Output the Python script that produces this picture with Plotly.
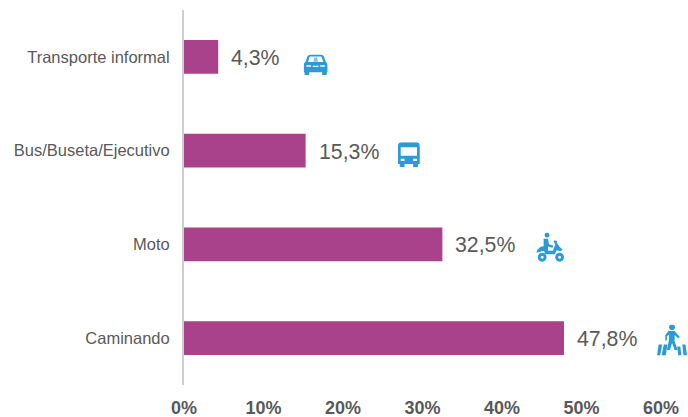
"""Modo de transporte: horizontal bars with icons next to each label."""

import base64

import plotly.graph_objects as go

categories = ["Caminando", "Moto", "Bus/Buseta/Ejecutivo", "Transporte informal"]
shares = [47.8, 32.5, 15.3, 4.3]
tick_values = [0, 10, 20, 30, 40, 50, 60]
tick_labels = ["0%", "10%", "20%", "30%", "40%", "50%", "60%"]

BAR = "#A9428A"
ICON = "#2A9BD6"
GREY = "#595959"
FONT = "Liberation Sans, Arial, sans-serif"

ICON_SVG = {
    "Transporte informal": """
      <path d="M7 1h12q2 0 3 2l2 6q2 1 2 4v7h-1v3h-5v-3H6v3H1v-3H0v-7q0-3 2-4l2-6q1-2 3-2z
               M7.500 3q-1 0-1.300 1L4.800 9h16.400l-1.400-5q-.3-1-1.300-1z
               M3 12.500v1.500h5v-1.500z M18 12.500v1.500h5v-1.500z M10 13v1.500h6V13z" fill-rule="evenodd"/>
      <path d="M11.500 4h3l1 4.500h-5z" opacity=".6"/>""",
    "Bus/Buseta/Ejecutivo": """
      <path d="M4 0h15q4 0 4 4v17h-2v3h-5v-3H7v3H2v-3H0V4q0-4 4-4z
               M3 5v8h17V5z M3 16v2h4v-2z M16 16v2h4v-2z" fill-rule="evenodd"/>""",
    "Moto": """
      <circle cx="12" cy="2.700" r="2.500"/>
      <path d="M8.500 6.500h4.500l1 5.500 4.500 1.500-.7 2-4.800-1.200v4.200h5l2.500-6-1.500-3.500 1-1 2.500 1-.5 1.500 3 4 3 3-2 1.500-4-1-2 4H10l-1-3.500-8 2 1-3 3.500-3 3-.5z"/>
      <path d="M7 20.500a4.500 4.500 0 1 0 .01 0z M7 23.500a1.500 1.500 0 1 1-.01 0z" fill-rule="evenodd"/>
      <path d="M25 20.500a4.500 4.500 0 1 0 .01 0z M25 23.500a1.500 1.500 0 1 1-.01 0z" fill-rule="evenodd"/>""",
    "Caminando": """
      <circle cx="14.500" cy="2.800" r="2.800"/>
      <path d="M11 6.500h6l5 6-1.500 1.500-3.500-3.500v6.500l3 8.500h-3l-2.500-7-2 7h-3l2-9.500v-6l-2 2v4H8v-5.500z"/>
      <path d="M1.500 20h3.500L3 31H0z M6.500 20h3.500L8.500 31H4.500z M19.500 22h3l1 9h-3z M24.500 20h3l1.500 11h-3.500z"/>""",
}
# viewBox of each drawing and the size it is shown at on the page
ICON_BOX = {
    "Transporte informal": (26, 23),
    "Bus/Buseta/Ejecutivo": (23, 24),
    "Moto": (31, 30),
    "Caminando": (29, 31),
}
ICON_SIZE = {
    "Transporte informal": (24, 21),
    "Bus/Buseta/Ejecutivo": (22, 25),
    "Moto": (30, 30),
    "Caminando": (30, 31),
}
# left edge of each icon, in value-axis units
ICON_X = {"Transporte informal": 15.05, "Bus/Buseta/Ejecutivo": 26.9, "Moto": 44.2, "Caminando": 59.5}
ICON_DY = {"Transporte informal": -0.08, "Bus/Buseta/Ejecutivo": -0.043, "Moto": -0.03, "Caminando": -0.02}
PLOT_W, PLOT_H = 477, 375


def icon_uri(name):
    w, h = ICON_BOX[name]
    svg = (
        f'<svg xmlns="http://www.w3.org/2000/svg" viewBox="0 0 {w} {h}" width="{w}" height="{h}" '
        f'preserveAspectRatio="none" fill="{ICON}">{ICON_SVG[name]}</svg>'
    )
    return "data:image/svg+xml;base64," + base64.b64encode(svg.encode()).decode()


y_pos = list(range(len(categories)))

fig = go.Figure(
    go.Bar(
        y=y_pos,
        x=shares,
        orientation="h",
        width=0.36,
        marker=dict(color=BAR, line=dict(width=0)),
        hoverinfo="skip",
    )
)

for i, (cat, val) in enumerate(zip(categories, shares)):
    fig.add_annotation(
        x=val,
        y=i,
        text=f"{val:.1f}%".replace(".", ","),
        showarrow=False,
        xanchor="left",
        xshift=11,
        yshift=-1,
        font=dict(family=FONT, size=21.3, color=GREY),
    )
    w, h = ICON_SIZE[cat]
    # paper coordinates: images tied to the axes get clipped at the plot edge
    fig.add_layout_image(
        source=icon_uri(cat),
        xref="paper",
        yref="paper",
        x=ICON_X[cat] / 60,
        y=(i + 0.5 + ICON_DY[cat]) / len(categories),
        sizex=w / PLOT_W,
        sizey=h / PLOT_H,
        xanchor="left",
        yanchor="middle",
        sizing="stretch",
        layer="above",
    )

fig.update_layout(
    width=688,
    height=417,
    margin=dict(l=184, r=27, t=10, b=32, autoexpand=False),
    autosize=False,
    showlegend=False,
    paper_bgcolor="white",
    plot_bgcolor="white",
    xaxis=dict(
        range=[0, 60],
        tickvals=tick_values,
        ticktext=tick_labels,
        showgrid=False,
        zeroline=False,
        showline=False,
        ticks="",
        automargin=False,
        ticklabelstandoff=10,
        tickfont=dict(family=FONT, size=18, color=GREY, weight="bold"),
    ),
    yaxis=dict(
        range=[-0.5, 3.5],
        tickvals=y_pos,
        ticktext=categories,
        showgrid=False,
        zeroline=False,
        showline=True,
        linecolor="#CFCFCF",
        linewidth=2,
        ticks="",
        automargin=False,
        ticklabelstandoff=9,
        tickfont=dict(family=FONT, size=16.5, color=GREY),
    ),
)

# the page's default 8px body margin would push the chart off the window
fig.write_html(
    "out.html",
    config={"displayModeBar": False},
    post_script="document.body.style.margin='0';",
)
